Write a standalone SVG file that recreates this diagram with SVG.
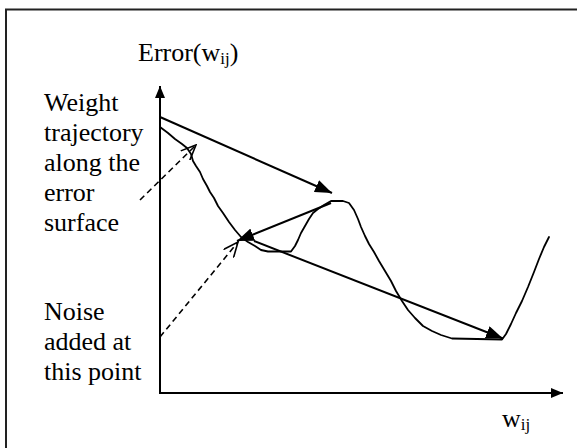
<svg xmlns="http://www.w3.org/2000/svg" width="577" height="448" viewBox="0 0 577 448">
<style>
text{font-family:'Liberation Serif','Times New Roman',Times,'DejaVu Serif',serif;font-size:26px;fill:#000}
.s{font-size:17px}
.ax{stroke:#000;stroke-width:2;fill:none}
.ln{stroke:#000;stroke-width:2;fill:none}
.cv{stroke:#000;stroke-width:1.8;fill:none;stroke-linejoin:round;stroke-linecap:round}
.ds{stroke:#000;stroke-width:1.6;fill:none;stroke-dasharray:6 4}
</style>
<defs>
<marker id="ah" viewBox="0 0 12 10" refX="12" refY="5" markerWidth="12" markerHeight="10" markerUnits="userSpaceOnUse" orient="auto"><path d="M0,0 L12,5 L0,10 z" fill="#000"/></marker>
<marker id="fh" viewBox="0 0 17 13" refX="17" refY="6.5" markerWidth="17" markerHeight="13" markerUnits="userSpaceOnUse" orient="auto"><path d="M0,0 L17,6.5 L0,13 z" fill="#000"/></marker>
<marker id="oh" viewBox="0 0 16 14" refX="15" refY="7" markerWidth="16" markerHeight="14" markerUnits="userSpaceOnUse" orient="auto"><path d="M0,0.5 L15,7 L0,13.5" fill="none" stroke="#000" stroke-width="1.6"/></marker>
</defs>
<rect x="0" y="0" width="577" height="448" fill="#fff"/>
<rect id="frame" x="6" y="9.5" width="620" height="500" fill="none" stroke="#222" stroke-width="2"/>
<g id="axes">
<line class="ax" x1="160" y1="393" x2="160" y2="86" marker-end="url(#ah)"/>
<line class="ax" x1="159" y1="393" x2="563" y2="393" marker-end="url(#ah)"/>
</g>
<g id="curve">
<polyline class="cv" points="160,127 168,133 175,139 182,144 187,148 191,154 193,161 196,166 200,172 203,179 207,186 210,192 214,198 218,206 223,213 229,222 235,230 241,237 248,242 255,246 261,250 268,251.5 291,251.5 295,246 298,240 301,233 305,226 309,219 313,213 318,209 324,205 331,201 343,201 349,203 354,210 358,219 361,227 365,236 369,244 374,252 379,261 385,271 391,281 396,291 402,301 408,310 415,318 423,326 432,331 441,335 452,338.5 502,339.5 506,334 511,324 516,313 522,301 528,287 534,272 539,259 544,247 549,237"/>
</g>
<g id="connectors">
<line class="ln" x1="160" y1="117" x2="332" y2="193" marker-end="url(#fh)"/>
<line class="ln" x1="331" y1="203" x2="237" y2="241" marker-end="url(#fh)"/>
<line class="ln" x1="254" y1="241" x2="503" y2="338.5" marker-end="url(#fh)"/>
<line class="ds" x1="140" y1="200" x2="196" y2="145" marker-end="url(#oh)"/>
<line class="ds" x1="160" y1="337" x2="238" y2="242" marker-end="url(#oh)"/>
</g>
<g id="label-error">
<text x="138" y="61" font-family="Liberation Serif, serif">Error(w<tspan class="s" dy="3">ij</tspan><tspan dy="-3">)</tspan></text>
</g>
<g id="label-weight" font-family="Liberation Serif, serif">
<text x="44" y="111">Weight</text>
<text x="44" y="141">trajectory</text>
<text x="44" y="171">along the</text>
<text x="44" y="201">error</text>
<text x="44" y="231">surface</text>
</g>
<g id="label-noise">
<text x="44" y="320">Noise</text>
<text x="44" y="350">added at</text>
<text x="44" y="380">this point</text>
</g>
<g id="label-w">
<text x="502" y="427">w<tspan class="s" dy="3">ij</tspan></text>
</g>
</svg>
